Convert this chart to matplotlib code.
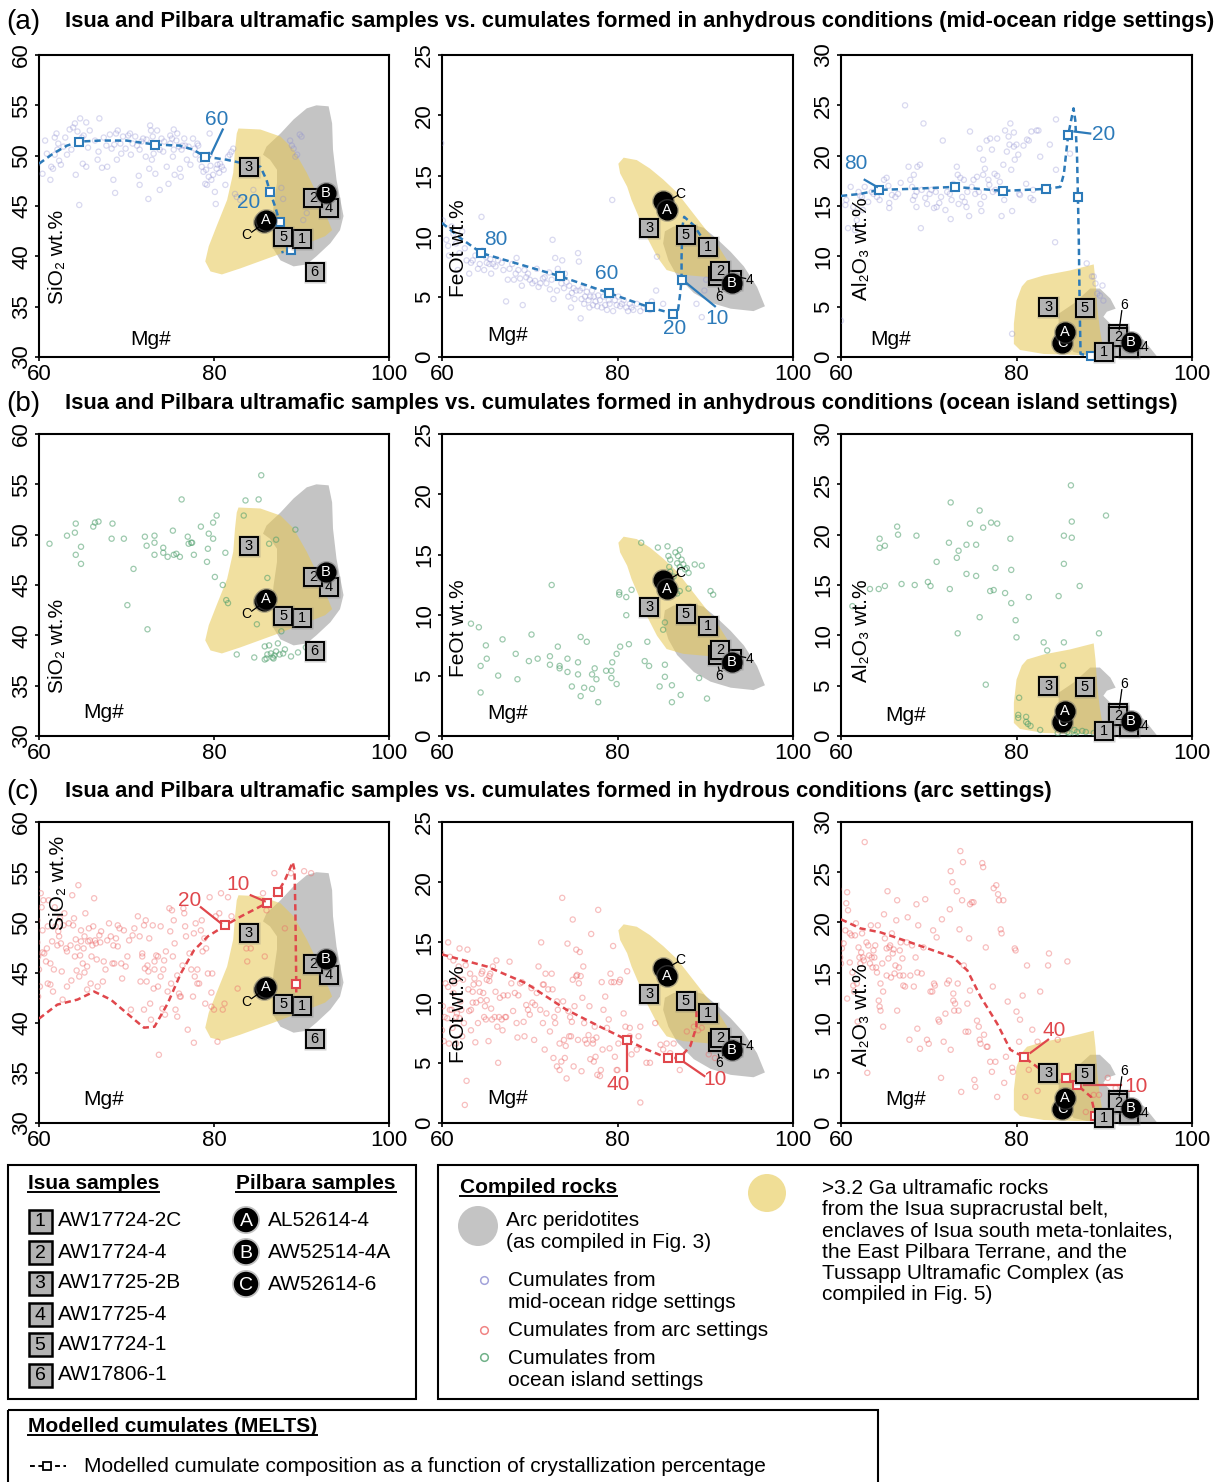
import matplotlib
matplotlib.use('Agg')
import matplotlib.pyplot as plt
from matplotlib.patches import Polygon, Rectangle, Ellipse, Circle

plt.rcParams['font.family'] = ['Liberation Sans', 'DejaVu Sans']

# ------------------------------------------------------------------ data
mg_ticks = [60, 80, 100]
sio2_ticks = [30, 35, 40, 45, 50, 55, 60]
feo_ticks = [0, 5, 10, 15, 20, 25]
al_ticks = [0, 5, 10, 15, 20, 25, 30]

titles = ["Isua and Pilbara ultramafic samples vs. cumulates formed in anhydrous conditions (mid-ocean ridge settings)",
          "Isua and Pilbara ultramafic samples vs. cumulates formed in anhydrous conditions (ocean island settings)",
          "Isua and Pilbara ultramafic samples vs. cumulates formed in hydrous conditions (arc settings)"]
panel_letters = ["(a)", "(b)", "(c)"]

# Isua samples (squares 1-6)
isua_ids = ["1", "2", "3", "4", "5", "6"]
isua_names = ["AW17724-2C", "AW17724-4", "AW17725-2B", "AW17725-4", "AW17724-1", "AW17806-1"]
isua_sio2_mg = [90.1, 91.3, 84.0, 93.1, 87.9, 91.5]
isua_sio2 = [41.7, 45.8, 48.9, 44.8, 41.9, 38.4]
isua_feo_mg = [90.3, 91.7, 83.6, 93.0, 87.8, 91.5]
isua_feo = [9.1, 7.1, 10.7, 6.4, 10.1, 6.7]
isua_al_mg = [90.0, 91.6, 83.6, 92.8, 87.8, 91.6]
isua_al = [0.5, 2.0, 5.0, 0.9, 4.9, 2.3]

# Pilbara samples (circles A-C)
pil_ids = ["A", "B", "C"]
pil_names = ["AL52614-4", "AW52514-4A", "AW52614-6"]
pil_sio2_mg = [85.9, 92.8, 85.7]
pil_sio2 = [43.6, 46.3, 43.4]
pil_feo_mg = [85.6, 93.0, 85.2]
pil_feo = [12.2, 6.1, 12.9]
pil_al_mg = [85.5, 93.0, 85.2]
pil_al = [2.45, 1.5, 1.35]

# compiled fields (Mg#, oxide)
yellow_sio2 = [(82.8, 52.7), (85.3, 52.6), (87.6, 51.9), (89.1, 50.6), (90.6, 48.3), (92.1, 45.6), (93.5, 42.6),
               (92.7, 42.0), (89.8, 41.0), (86.8, 40.0), (83.0, 38.8), (80.9, 38.2), (79.6, 38.5), (79.0, 39.5),
               (79.4, 41.0), (80.3, 43.0), (81.5, 45.6), (82.2, 48.3), (82.4, 50.6), (82.6, 52.2)]
gray_sio2 = [(91.7, 55.0), (93.1, 54.9), (93.5, 53.2), (93.6, 50.6), (94.0, 47.6), (94.8, 44.0), (94.4, 42.6),
             (93.3, 41.3), (91.7, 40.0), (90.6, 39.2), (89.1, 39.0), (87.6, 39.6), (86.6, 41.0), (86.6, 43.0),
             (86.8, 44.9), (87.2, 47.3), (87.2, 48.6), (86.4, 49.6), (85.6, 50.1), (86.0, 50.9), (87.6, 52.2),
             (89.1, 53.6), (90.6, 54.7)]
yellow_feo = [(80.7, 16.5), (82.2, 16.3), (83.7, 15.6), (85.2, 14.7), (86.8, 13.6), (88.3, 12.2), (89.8, 10.8),
              (91.3, 9.4), (92.5, 8.0), (92.7, 6.9), (90.6, 6.6), (87.5, 6.8), (85.6, 7.2), (84.5, 8.3),
              (83.3, 10.0), (82.6, 11.3), (81.6, 13.0), (81.1, 14.1), (80.3, 15.2), (80.1, 16.0)]
gray_feo = [(86.4, 10.8), (88.3, 11.0), (89.8, 10.7), (91.3, 9.8), (92.9, 8.7), (94.4, 7.5), (95.9, 5.8),
            (96.8, 4.2), (95.5, 3.8), (92.9, 4.0), (90.6, 4.5), (88.7, 5.3), (86.8, 6.7), (85.8, 8.0),
            (85.2, 9.4), (85.4, 10.4)]
yellow_al = [(81.2, 7.6), (83.1, 8.1), (86.1, 8.6), (88.8, 9.2), (89.0, 7.6), (89.2, 5.0), (89.5, 2.7),
             (89.9, 0.7), (89.9, 0.2), (86.9, 0.2), (83.1, 0.3), (80.4, 0.7), (79.7, 1.3), (79.7, 3.3),
             (80.0, 5.6), (80.6, 7.0)]
gray_al = [(84.8, 4.3), (86.5, 5.3), (88.4, 6.8), (89.5, 6.8), (90.7, 5.8), (91.3, 4.8), (90.3, 4.5),
           (89.9, 4.0), (90.7, 3.3), (91.8, 2.7), (94.5, 1.7), (96.0, 0.07), (90.7, 0.07), (88.0, 0.2),
           (86.5, 0.5), (85.4, 1.7), (84.8, 3.0)]

# cumulates from mid-ocean ridge settings (Mg#, oxide)
mor_sio2 = [(59.8, 49.2), (60.4, 48.2), (60.7, 51.5), (60.9, 50.2), (61.3, 47.6), (61.4, 48.9), (61.6, 48.7),
            (61.8, 51.8), (61.8, 50.1), (62.0, 52.2), (62.1, 50.6), (62.2, 51.2), (62.3, 49.5), (62.5, 49.1),
            (62.8, 50.9), (63.0, 51.8), (63.2, 50.1), (63.5, 52.6), (63.7, 50.6), (63.9, 52.8), (64.1, 53.2),
            (64.2, 48.1), (64.4, 52.4), (64.6, 45.1), (64.7, 53.7), (64.9, 51.8), (65.0, 49.2), (65.1, 52.0),
            (65.4, 48.9), (65.4, 53.3), (65.6, 50.8), (65.8, 52.5), (66.4, 51.5), (66.7, 49.6), (66.8, 50.4),
            (66.9, 53.7), (67.2, 48.8), (67.4, 51.8), (67.7, 51.0), (67.8, 48.9), (68.1, 52.1), (68.3, 50.7),
            (68.5, 47.6), (68.6, 51.1), (68.7, 46.3), (68.8, 52.2), (68.9, 49.6), (69.0, 52.5), (69.3, 51.2),
            (69.4, 50.2), (69.6, 51.9), (69.9, 50.7), (70.2, 52.0), (70.4, 52.2), (70.5, 50.1), (70.7, 51.2),
            (71.0, 51.9), (71.2, 51.0), (71.4, 48.0), (71.5, 50.6), (71.5, 47.1), (71.7, 51.4), (71.9, 51.7),
            (72.2, 49.9), (72.3, 51.6), (72.5, 45.7), (72.6, 48.7), (72.7, 53.0), (72.8, 52.5), (72.9, 49.6),
            (73.0, 51.9), (73.1, 50.2), (73.3, 48.2), (73.4, 50.9), (73.5, 52.5), (73.8, 50.6), (73.8, 46.6),
            (74.0, 51.7), (74.2, 50.4), (74.3, 51.4), (74.6, 48.9), (74.8, 47.2), (75.0, 52.0), (75.0, 51.2),
            (75.2, 51.7), (75.3, 49.9), (75.4, 52.6), (75.4, 50.6), (75.5, 48.1), (75.7, 51.5), (75.8, 52.2),
            (76.0, 50.9), (76.1, 48.7), (76.2, 47.9), (76.3, 50.6), (76.4, 51.0), (76.6, 51.7), (76.7, 51.0),
            (76.9, 49.6), (77.1, 50.9), (77.3, 49.1), (77.6, 51.7), (77.8, 50.7), (77.9, 50.1), (78.1, 51.2),
            (78.2, 51.0), (78.4, 49.6), (78.6, 48.9), (78.8, 48.4), (79.0, 47.2), (79.1, 48.6), (79.2, 47.1),
            (79.4, 47.9), (79.5, 50.1), (79.5, 52.2), (79.6, 49.0), (79.7, 47.6), (79.9, 48.1), (80.1, 46.4),
            (80.2, 45.2), (80.3, 48.7), (80.4, 49.1), (80.6, 48.3), (80.7, 49.2), (80.9, 48.9), (81.1, 48.6),
            (81.3, 47.1), (81.6, 49.9), (81.8, 50.1), (82.0, 50.4), (82.2, 50.7), (82.4, 46.2), (82.6, 45.9),
            (83.0, 45.6), (84.5, 46.6), (87.7, 46.8), (87.9, 45.7), (88.7, 51.5), (88.9, 51.0), (89.1, 50.7),
            (89.3, 49.9), (89.5, 50.1), (89.8, 52.1), (90.0, 51.9), (90.2, 43.6), (90.6, 44.3)]
mor_feo = [(59.9, 17.7), (60.1, 11.3), (60.5, 9.7), (60.7, 9.2), (60.8, 8.4), (61.1, 10.8), (61.3, 10.2),
           (61.6, 9.4), (61.8, 7.2), (62.0, 8.6), (62.3, 10.4), (62.6, 9.0), (62.8, 8.0), (63.1, 6.9),
           (63.3, 7.8), (63.5, 8.0), (63.8, 8.4), (64.1, 7.3), (64.3, 7.7), (64.5, 11.6), (64.6, 8.8),
           (64.8, 7.2), (65.0, 8.3), (65.1, 7.8), (65.4, 7.7), (65.5, 8.1), (65.6, 6.9), (65.8, 7.7),
           (66.1, 7.5), (66.4, 8.0), (66.8, 7.8), (67.0, 7.2), (67.3, 4.6), (67.5, 6.4), (67.7, 7.3),
           (68.0, 7.7), (68.2, 6.4), (68.4, 6.9), (68.5, 8.2), (68.7, 7.2), (68.9, 6.5), (69.1, 5.9),
           (69.2, 4.3), (69.4, 7.2), (69.6, 6.6), (69.8, 6.9), (70.0, 6.4), (70.3, 6.1), (70.6, 6.3),
           (70.8, 7.3), (71.0, 5.8), (71.2, 6.1), (71.5, 6.5), (71.7, 6.6), (71.9, 6.1), (72.2, 7.0),
           (72.3, 5.6), (72.5, 6.4), (72.6, 9.7), (72.7, 4.8), (72.9, 8.2), (73.1, 5.5), (73.2, 7.3),
           (73.4, 6.8), (73.6, 6.1), (73.7, 8.0), (73.9, 5.7), (74.0, 6.9), (74.2, 6.2), (74.4, 5.0),
           (74.5, 5.9), (74.7, 4.1), (74.8, 5.3), (75.0, 5.7), (75.1, 4.8), (75.3, 5.5), (75.5, 8.6),
           (75.6, 7.9), (75.7, 5.5), (75.8, 3.2), (75.9, 4.8), (76.0, 5.7), (76.2, 4.4), (76.3, 5.0),
           (76.5, 5.4), (76.7, 4.7), (76.8, 4.1), (76.9, 5.0), (77.1, 5.5), (77.2, 4.3), (77.3, 5.0),
           (77.5, 4.6), (77.7, 4.2), (77.8, 5.1), (78.0, 4.7), (78.2, 4.1), (78.4, 5.0), (78.6, 4.3),
           (78.8, 3.9), (79.0, 4.7), (79.1, 4.4), (79.3, 5.3), (79.4, 13.0), (79.5, 3.8), (79.7, 4.7),
           (79.9, 4.3), (80.1, 5.0), (80.3, 4.2), (80.5, 4.4), (80.7, 4.7), (81.0, 4.1), (81.2, 3.8),
           (81.4, 4.4), (81.6, 4.1), (81.8, 3.9), (82.2, 4.4), (82.6, 3.8), (83.0, 4.1), (83.4, 4.1),
           (83.7, 3.9), (83.9, 4.6), (84.4, 5.5), (84.5, 8.3), (85.2, 4.4), (89.0, 4.4), (89.6, 3.3),
           (89.9, 5.5), (90.1, 6.4)]
mor_al = [(60.0, 3.6), (60.5, 15.1), (60.6, 15.6), (60.8, 12.8), (61.1, 16.9), (61.4, 14.9), (61.6, 12.6),
          (61.8, 13.6), (62.0, 16.4), (62.2, 16.0), (62.4, 15.9), (62.5, 14.6), (62.7, 16.9), (63.1, 15.4),
          (63.5, 16.4), (63.7, 16.2), (64.1, 15.9), (64.4, 15.6), (64.9, 17.6), (65.2, 17.8), (65.4, 17.0),
          (65.5, 15.3), (65.5, 14.8), (65.8, 16.1), (66.2, 15.9), (66.5, 16.2), (66.8, 17.3), (67.3, 25.0),
          (67.7, 18.9), (67.9, 17.6), (68.1, 16.9), (68.2, 15.6), (68.3, 18.1), (68.4, 16.0), (68.6, 16.4),
          (68.6, 14.9), (68.7, 18.9), (69.0, 19.1), (69.1, 12.8), (69.2, 16.6), (69.4, 23.2), (69.6, 15.8),
          (69.8, 15.2), (70.1, 16.2), (70.3, 16.6), (70.6, 14.8), (70.8, 16.4), (70.9, 14.9), (71.2, 15.3),
          (71.4, 15.9), (71.6, 21.5), (71.9, 14.6), (72.1, 16.4), (72.4, 16.2), (72.5, 13.7), (72.6, 15.6),
          (72.8, 17.2), (73.0, 16.9), (73.2, 18.9), (73.3, 18.1), (73.4, 15.2), (73.6, 17.8), (73.8, 15.9),
          (74.0, 17.6), (74.1, 15.4), (74.3, 14.9), (74.4, 16.4), (74.6, 14.0), (74.7, 22.4), (74.9, 16.9),
          (75.1, 17.6), (75.3, 16.2), (75.5, 17.9), (75.7, 16.4), (75.8, 20.7), (75.9, 15.2), (76.0, 14.5),
          (76.2, 19.6), (76.2, 18.1), (76.3, 15.9), (76.4, 18.7), (76.6, 21.5), (76.8, 17.6), (76.9, 17.1),
          (77.0, 21.7), (77.2, 20.6), (77.3, 16.4), (77.5, 18.2), (77.6, 16.6), (77.8, 21.7), (77.8, 18.0),
          (78.1, 17.4), (78.3, 14.0), (78.5, 19.1), (78.6, 15.6), (78.7, 22.5), (78.9, 20.4), (79.1, 21.9),
          (79.2, 21.1), (79.3, 23.2), (79.4, 18.6), (79.5, 14.5), (79.7, 22.3), (79.7, 20.9), (79.8, 19.6),
          (80.0, 21.1), (80.2, 20.1), (80.3, 16.2), (80.4, 16.1), (80.8, 21.0), (81.1, 17.2), (81.2, 21.6),
          (81.4, 21.5), (81.6, 15.8), (81.7, 22.4), (81.9, 15.6), (81.9, 16.6), (82.3, 22.5), (82.5, 22.5),
          (82.7, 19.9), (83.8, 21.1), (84.4, 11.4), (84.5, 23.6), (84.5, 18.6), (86.1, 20.2), (88.0, 9.3),
          (88.6, 8.0), (88.8, 8.0), (89.0, 7.3), (89.2, 6.3), (89.5, 6.1), (89.8, 7.1), (89.9, 5.6),
          (79.5, 2.3)]

# cumulates from ocean island settings
oib_sio2 = [(61.2, 49.1), (63.2, 49.9), (64.1, 50.2), (64.2, 51.1), (64.8, 48.8), (64.2, 48.0), (64.8, 47.1),
            (66.2, 50.8), (66.4, 51.2), (66.8, 51.3), (68.4, 51.1), (68.3, 49.6), (69.7, 49.6), (70.1, 43.0),
            (70.8, 46.6), (72.1, 49.8), (72.3, 48.9), (72.4, 40.6), (73.2, 49.9), (73.2, 49.2), (73.2, 48.0),
            (74.2, 48.7), (74.2, 48.2), (74.7, 47.8), (75.3, 50.4), (75.4, 48.0), (75.7, 48.1), (76.1, 47.8),
            (76.3, 53.5), (77.0, 49.8), (77.1, 49.1), (77.4, 49.2), (77.5, 49.2), (77.7, 48.0), (78.5, 50.8),
            (79.2, 47.3), (79.3, 48.6), (79.4, 50.1), (79.9, 49.6), (79.9, 51.2), (80.3, 51.9), (80.1, 45.8),
            (81.0, 45.0), (81.3, 48.2), (81.4, 43.5), (81.6, 43.2), (82.6, 38.1), (83.4, 51.9), (83.6, 53.4),
            (84.9, 41.1), (85.1, 53.5), (85.4, 55.9), (86.1, 45.7), (86.3, 49.1), (87.1, 49.5), (87.7, 40.4),
            (89.3, 50.5), (84.6, 37.8), (85.8, 38.9), (86.0, 37.7), (86.1, 38.1), (86.3, 39.0), (86.5, 38.2),
            (86.7, 37.8), (86.9, 38.0), (87.1, 38.4), (87.3, 39.2), (87.5, 38.1), (87.9, 38.2), (88.1, 38.6),
            (88.8, 37.9), (89.6, 38.3), (85.8, 37.6), (86.8, 37.7), (90.5, 38.8)]
oib_feo = [(63.3, 9.3), (64.2, 9.0), (64.4, 5.8), (64.4, 3.6), (65.0, 7.5), (65.1, 6.4), (66.4, 5.0),
           (66.9, 8.0), (68.4, 6.8), (68.6, 4.7), (69.9, 6.2), (70.2, 8.4), (70.9, 6.4), (72.3, 6.6),
           (72.3, 5.9), (72.5, 12.5), (73.2, 7.4), (73.4, 5.8), (73.4, 5.6), (74.3, 6.4), (74.3, 5.3),
           (74.8, 4.1), (75.5, 6.1), (75.5, 5.1), (75.8, 3.3), (75.8, 8.2), (76.2, 4.0), (76.5, 7.8),
           (77.1, 5.1), (77.1, 3.9), (77.4, 5.6), (77.6, 4.7), (77.8, 2.8), (78.7, 5.4), (79.3, 5.4),
           (79.4, 6.1), (79.3, 4.8), (79.9, 4.3), (79.9, 6.8), (80.2, 11.9), (80.3, 7.4), (80.2, 11.7),
           (81.0, 11.5), (81.0, 10.0), (81.3, 7.6), (81.6, 12.1), (82.7, 16.0), (83.1, 6.2), (83.4, 7.8),
           (83.6, 5.8), (84.6, 15.6), (84.8, 4.1), (85.2, 8.8), (85.4, 9.4), (85.4, 5.9), (85.4, 4.9),
           (85.7, 15.7), (85.8, 14.9), (85.9, 14.0), (86.0, 14.6), (86.2, 2.8), (86.2, 4.2), (86.6, 15.2),
           (86.8, 14.3), (86.9, 14.9), (87.1, 14.0), (87.1, 15.4), (87.2, 3.4), (87.3, 14.6), (87.5, 14.2),
           (87.7, 13.8), (87.9, 13.9), (88.1, 13.5), (86.8, 11.8), (87.1, 12.0), (88.1, 12.2), (88.8, 14.2),
           (89.3, 4.8), (89.6, 14.1), (90.2, 3.1), (90.6, 12.0), (90.9, 11.7), (86.0, 13.6), (86.4, 13.2)]
oib_al = [(61.3, 12.9), (63.3, 14.6), (64.3, 14.6), (64.4, 18.7), (64.4, 19.6), (65.0, 18.9), (65.0, 14.9),
          (66.4, 20.8), (66.5, 20.0), (66.9, 15.1), (68.4, 15.0), (68.6, 19.9), (69.9, 15.3), (70.2, 14.9),
          (70.9, 17.3), (72.3, 19.2), (72.4, 14.6), (72.5, 23.2), (73.2, 17.7), (73.3, 10.2), (73.4, 18.4),
          (74.3, 19.0), (74.3, 16.1), (74.7, 21.1), (75.4, 19.0), (75.4, 15.9), (75.8, 22.4), (75.8, 11.8),
          (76.2, 20.7), (76.5, 5.1), (77.0, 14.4), (77.1, 21.2), (77.4, 14.5), (77.6, 16.7), (77.8, 21.1),
          (78.7, 14.2), (79.3, 19.6), (79.4, 16.5), (79.4, 13.2), (79.9, 11.5), (80.0, 9.8), (80.3, 3.8),
          (80.2, 2.1), (80.2, 1.8), (81.1, 1.9), (81.3, 1.2), (81.6, 1.0), (81.1, 1.4), (81.4, 13.8),
          (82.7, 0.6), (83.1, 9.3), (83.5, 8.5), (84.8, 13.9), (84.7, 0.3), (85.3, 7.0), (85.4, 19.9),
          (85.4, 17.1), (85.4, 9.3), (85.8, 0.4), (86.0, 0.3), (86.2, 24.9), (86.3, 21.3), (86.3, 19.7),
          (86.6, 0.6), (86.7, 0.1), (86.9, 0.4), (87.2, 14.9), (87.5, 0.5), (87.9, 0.4), (88.8, 0.3),
          (89.4, 10.2), (90.2, 21.9)]

# cumulates from arc settings
arc_sio2 = [(59.7, 53.5), (59.7, 51.4), (59.8, 50.2), (59.8, 48.0), (59.9, 46.6), (59.9, 42.6), (60.0, 45.3),
            (60.1, 43.6), (60.2, 52.9), (60.3, 51.5), (60.4, 49.2), (60.4, 47.0), (60.5, 52.2), (60.6, 46.9),
            (60.8, 46.1), (60.9, 47.4), (61.0, 49.6), (61.0, 43.9), (61.1, 52.2), (61.3, 43.8), (61.3, 45.9),
            (61.5, 48.1), (61.6, 43.1), (61.7, 45.3), (61.8, 51.5), (61.9, 49.6), (62.1, 47.7), (62.2, 49.1),
            (62.3, 48.6), (62.4, 50.4), (62.5, 47.9), (62.6, 45.1), (62.7, 42.3), (62.8, 49.7), (62.9, 50.9),
            (63.1, 47.4), (63.2, 43.6), (63.2, 47.1), (63.4, 49.9), (63.6, 47.7), (63.7, 44.2), (63.8, 52.7),
            (63.9, 49.7), (64.0, 50.4), (64.1, 46.6), (64.2, 48.3), (64.3, 45.2), (64.4, 47.5), (64.5, 53.7),
            (64.6, 44.6), (64.7, 46.7), (64.8, 49.2), (64.8, 48.1), (65.0, 45.9), (65.1, 47.4), (65.2, 48.6),
            (65.2, 45.0), (65.3, 50.9), (65.5, 43.3), (65.5, 45.6), (65.6, 48.1), (65.7, 49.4), (65.8, 48.2),
            (65.9, 43.9), (66.0, 46.6), (66.1, 47.7), (66.2, 49.6), (66.3, 52.4), (66.4, 48.2), (66.5, 47.9),
            (66.6, 46.3), (66.7, 43.6), (66.9, 48.7), (67.0, 48.0), (67.1, 49.1), (67.3, 44.1), (67.4, 46.1),
            (67.6, 45.3), (67.8, 48.2), (68.0, 49.9), (68.2, 48.6), (68.4, 45.9), (68.5, 47.7), (68.6, 45.9),
            (68.8, 48.4), (69.0, 49.7), (69.0, 47.6), (69.2, 49.4), (69.4, 45.9), (69.5, 44.4), (69.7, 49.2),
            (69.9, 45.6), (70.1, 46.6), (70.3, 48.2), (70.5, 41.3), (70.7, 48.7), (70.9, 49.4), (71.3, 50.6),
            (71.5, 48.6), (71.6, 44.1), (71.8, 46.6), (71.8, 46.9), (72.0, 49.7), (72.0, 41.3), (72.1, 45.4),
            (72.2, 50.2), (72.3, 44.1), (72.4, 45.7), (72.5, 45.1), (72.6, 48.4), (72.7, 41.9), (72.8, 40.3),
            (73.0, 49.7), (73.1, 43.4), (73.2, 46.1), (73.2, 45.3), (73.4, 46.7), (73.6, 43.6), (73.6, 46.6),
            (73.7, 36.8), (73.9, 44.6), (73.9, 49.6), (74.1, 41.4), (74.2, 45.3), (74.3, 46.2), (74.4, 40.8),
            (74.5, 47.1), (74.7, 43.1), (74.9, 51.4), (75.0, 49.1), (75.1, 43.9), (75.2, 51.2), (75.3, 46.6),
            (75.4, 50.2), (75.5, 47.9), (75.6, 41.3), (75.8, 40.6), (75.8, 44.7), (76.0, 42.9), (76.1, 42.6),
            (76.2, 42.6), (76.4, 45.7), (76.5, 51.4), (76.6, 50.9), (76.7, 49.6), (76.8, 48.6), (77.0, 39.3),
            (77.2, 46.9), (77.4, 45.3), (77.6, 42.6), (77.7, 38.0), (77.7, 48.9), (77.8, 44.6), (77.9, 49.9),
            (78.1, 45.3), (78.1, 43.9), (78.3, 43.9), (78.5, 49.2), (78.6, 50.2), (78.7, 47.1), (78.9, 48.4),
            (79.0, 41.9), (79.1, 47.4), (79.3, 44.9), (79.5, 52.5), (79.7, 43.0), (79.7, 41.6), (79.8, 44.9),
            (80.0, 41.3), (80.2, 50.6), (80.4, 38.1), (80.6, 50.9), (80.8, 52.9), (81.0, 41.3), (81.2, 41.9),
            (81.6, 52.5), (82.0, 50.6), (82.7, 43.4), (83.7, 47.4), (83.8, 46.1), (84.2, 47.4), (84.8, 49.1),
            (85.0, 43.4), (85.6, 52.9), (85.8, 46.6), (86.0, 51.2), (86.1, 43.6), (86.9, 54.9), (87.3, 53.2),
            (88.1, 49.4), (88.8, 54.9), (90.3, 55.1), (91.1, 54.9)]
arc_feo = [(59.9, 14.1), (60.0, 7.7), (60.1, 9.7), (60.2, 6.8), (60.3, 8.8), (60.4, 11.6), (60.6, 8.7),
           (60.7, 15.0), (60.7, 11.3), (60.8, 6.6), (60.9, 9.4), (60.9, 13.8), (61.1, 9.4), (61.2, 7.9),
           (61.3, 13.5), (61.3, 10.8), (61.4, 11.6), (61.6, 6.6), (61.6, 8.8), (61.7, 9.1), (61.8, 12.0),
           (61.9, 13.0), (62.0, 14.5), (62.0, 8.7), (62.1, 10.1), (62.2, 9.4), (62.3, 7.2), (62.4, 11.9),
           (62.5, 8.3), (62.6, 1.5), (62.7, 13.1), (62.8, 3.5), (62.9, 14.4), (63.0, 11.1), (63.1, 9.3),
           (63.2, 12.4), (63.3, 9.4), (63.3, 7.7), (63.5, 10.9), (63.5, 10.0), (63.6, 11.5), (63.7, 12.0),
           (63.8, 6.7), (63.9, 10.0), (64.1, 8.3), (64.2, 11.6), (64.3, 10.9), (64.4, 10.2), (64.5, 12.4),
           (64.6, 12.6), (64.7, 10.8), (64.8, 8.8), (64.9, 9.7), (65.0, 8.6), (65.1, 10.2), (65.1, 11.9),
           (65.3, 6.8), (65.4, 11.8), (65.4, 12.2), (65.5, 12.4), (65.6, 9.5), (65.7, 8.6), (65.8, 13.0),
           (66.0, 8.8), (66.1, 10.9), (66.2, 13.5), (66.3, 8.0), (66.4, 5.0), (66.5, 8.8), (66.6, 10.4),
           (66.8, 8.6), (66.9, 7.7), (67.0, 10.6), (67.2, 8.8), (67.3, 8.8), (67.5, 10.6), (67.7, 13.4),
           (67.9, 11.6), (68.1, 9.3), (68.3, 10.8), (68.5, 8.3), (68.6, 7.1), (68.7, 10.6), (68.9, 11.6),
           (69.1, 11.7), (69.3, 8.4), (69.4, 7.2), (69.6, 9.8), (69.8, 9.4), (70.0, 9.0), (70.2, 11.2),
           (70.3, 10.0), (70.5, 6.9), (70.6, 9.8), (70.8, 10.8), (71.0, 13.0), (71.2, 9.4), (71.3, 15.0),
           (71.5, 11.5), (71.5, 8.3), (71.6, 11.5), (71.7, 6.1), (71.8, 12.4), (71.9, 9.1), (72.1, 11.1),
           (72.3, 7.6), (72.5, 12.4), (72.6, 11.1), (72.7, 5.4), (72.8, 8.8), (72.9, 8.3), (73.1, 4.7),
           (73.1, 10.1), (73.2, 9.4), (73.4, 6.6), (73.4, 4.4), (73.6, 5.1), (73.7, 18.7), (73.8, 10.1),
           (73.9, 6.9), (74.0, 5.4), (74.1, 6.4), (74.2, 3.7), (74.3, 14.9), (74.4, 9.3), (74.5, 7.2),
           (74.6, 8.8), (74.7, 7.2), (74.8, 8.4), (74.9, 11.9), (74.9, 16.9), (75.0, 4.7), (75.1, 9.7),
           (75.3, 14.4), (75.3, 12.2), (75.4, 12.3), (75.5, 6.9), (75.6, 11.6), (75.7, 14.2), (75.8, 12.2),
           (75.9, 4.3), (76.0, 10.4), (76.1, 13.0), (76.2, 8.3), (76.3, 6.9), (76.5, 6.6), (76.7, 7.3),
           (76.8, 9.7), (76.9, 5.3), (77.0, 15.7), (77.2, 6.6), (77.2, 6.9), (77.3, 5.1), (77.4, 8.0),
           (77.5, 5.5), (77.6, 7.1), (77.7, 4.0), (77.8, 17.7), (78.0, 3.9), (78.1, 4.4), (78.2, 11.7),
           (78.3, 6.1), (78.4, 9.4), (78.6, 10.5), (78.8, 7.9), (79.0, 8.6), (79.1, 6.2), (79.2, 12.4),
           (79.3, 11.7), (79.5, 14.7), (79.6, 11.7), (79.7, 5.5), (79.9, 4.4), (80.0, 4.4), (80.1, 6.6),
           (80.2, 11.7), (80.3, 11.9), (80.7, 9.1), (80.9, 8.0), (81.1, 12.6), (81.4, 7.9), (81.4, 7.2),
           (81.6, 5.7), (82.2, 6.1), (82.4, 7.2), (82.6, 8.0), (82.6, 1.7), (83.3, 5.0), (83.7, 5.0),
           (84.3, 8.3), (84.9, 6.5), (85.2, 6.1), (85.6, 6.6), (86.0, 5.8), (86.4, 6.6), (87.1, 4.4),
           (87.9, 7.6), (88.7, 8.0), (89.2, 7.7), (89.6, 7.9), (90.4, 5.7), (91.1, 5.4)]
arc_al = [(59.7, 23.3), (59.8, 18.0), (59.9, 16.5), (60.0, 15.9), (60.1, 17.4), (60.3, 17.9), (60.5, 19.2),
          (60.6, 21.9), (60.7, 23.0), (60.7, 12.4), (60.8, 21.2), (61.0, 16.0), (61.0, 18.9), (61.2, 18.7),
          (61.3, 15.0), (61.4, 13.7), (61.5, 13.1), (61.6, 18.7), (61.7, 19.9), (61.8, 13.9), (61.9, 10.1),
          (62.0, 17.5), (62.1, 16.5), (62.2, 15.9), (62.3, 17.0), (62.4, 18.9), (62.5, 16.5), (62.6, 16.2),
          (62.7, 28.0), (62.9, 18.0), (63.0, 5.0), (63.1, 17.7), (63.2, 16.7), (63.3, 15.9), (63.4, 19.7),
          (63.5, 16.5), (63.6, 15.5), (63.7, 17.2), (63.8, 16.5), (63.9, 17.7), (64.0, 15.5), (64.1, 15.0),
          (64.2, 19.7), (64.3, 12.2), (64.4, 11.6), (64.5, 13.9), (64.5, 11.2), (64.7, 15.9), (64.8, 13.1),
          (64.8, 9.6), (64.9, 20.8), (65.0, 18.4), (65.2, 14.7), (65.2, 17.4), (65.3, 23.1), (65.4, 16.4),
          (65.5, 17.5), (65.6, 17.7), (65.7, 14.5), (65.8, 18.9), (65.9, 16.9), (66.0, 17.3), (66.1, 14.9),
          (66.2, 15.7), (66.3, 20.2), (66.4, 22.2), (66.4, 11.2), (66.6, 15.5), (66.7, 14.7), (66.7, 17.2),
          (66.8, 18.0), (67.0, 16.4), (67.1, 14.7), (67.1, 13.7), (67.3, 13.6), (67.5, 18.0), (67.6, 20.5),
          (67.8, 8.3), (67.9, 14.7), (68.1, 17.7), (68.3, 13.6), (68.5, 16.5), (68.6, 21.8), (68.7, 15.0),
          (68.7, 9.4), (68.8, 19.7), (69.0, 7.4), (69.2, 14.9), (69.4, 17.5), (69.6, 22.3), (69.8, 8.3),
          (70.0, 7.9), (70.2, 13.1), (70.4, 13.1), (70.5, 19.2), (70.6, 13.9), (70.7, 13.7), (70.9, 18.5),
          (71.1, 10.3), (71.2, 10.1), (71.4, 4.5), (71.5, 20.3), (71.7, 8.1), (71.9, 10.9), (72.1, 13.9),
          (72.3, 14.2), (72.4, 21.3), (72.5, 25.1), (72.5, 7.3), (72.7, 24.0), (72.8, 12.9), (72.8, 12.2),
          (72.9, 11.2), (73.0, 11.9), (73.2, 23.1), (73.3, 13.9), (73.4, 11.2), (73.5, 19.3), (73.6, 27.1),
          (73.7, 3.1), (73.8, 22.2), (73.9, 26.0), (74.0, 15.7), (74.2, 9.1), (74.4, 11.9), (74.5, 9.1),
          (74.6, 18.4), (74.7, 21.8), (74.7, 13.2), (74.9, 22.0), (75.1, 22.0), (75.2, 4.3), (75.3, 3.6),
          (75.5, 10.2), (75.7, 9.6), (75.8, 8.3), (75.9, 7.9), (76.1, 25.9), (76.2, 25.5), (76.3, 8.8),
          (76.5, 17.5), (76.6, 7.6), (76.7, 7.6), (77.0, 6.1), (77.2, 5.1), (77.3, 13.6), (77.4, 23.4),
          (77.6, 6.1), (77.7, 23.7), (77.8, 2.6), (77.9, 22.8), (78.0, 22.2), (78.2, 19.3), (78.3, 18.9),
          (78.5, 22.2), (78.6, 4.0), (78.8, 6.6), (79.0, 12.1), (79.5, 5.5), (79.6, 5.1), (79.8, 17.4),
          (79.9, 17.2), (80.0, 11.1), (80.3, 8.1), (80.4, 10.3), (80.7, 12.7), (81.0, 2.6), (81.2, 15.7),
          (81.4, 5.3), (81.8, 9.3), (82.4, 8.1), (82.4, 3.2), (82.7, 13.1), (83.6, 15.7), (83.7, 16.9),
          (84.7, 8.3), (85.8, 16.1), (87.9, 1.1), (88.8, 2.8), (89.4, 2.8), (90.4, 4.5), (91.3, 3.5)]

# MELTS modelled cumulates: line vertices and positions of the square markers (by vertex index)
mor_model_sio2 = [(60.0, 49.2), (61.6, 50.2), (63.2, 51.0), (64.6, 51.4), (67.0, 51.5), (70.0, 51.5), (73.3, 51.1),
                  (76.1, 51.0), (77.6, 50.6), (79.0, 49.9), (81.4, 49.6), (83.0, 49.3), (85.3, 48.9), (86.0, 47.6),
                  (86.4, 46.4), (87.0, 44.9), (87.5, 43.4), (88.0, 41.9), (88.8, 40.6), (87.7, 40.4)]
mor_model_sio2_marks = [3, 6, 9, 14, 16, 18]
mor_model_feo = [(60.0, 11.1), (62.0, 9.9), (64.5, 8.6), (73.4, 6.7), (79.0, 5.3), (83.7, 4.1), (86.3, 3.6),
                 (86.9, 3.9), (87.1, 5.0), (87.3, 6.4), (87.3, 8.3), (87.4, 10.8), (87.6, 11.6), (88.7, 10.9),
                 (89.6, 9.9)]
mor_model_feo_marks = [2, 3, 4, 5, 6, 9]
mor_model_al = [(60.0, 16.0), (62.2, 16.2), (64.3, 16.6), (67.9, 16.7), (73.0, 16.9), (78.5, 16.5), (83.4, 16.7),
                (85.0, 16.9), (85.4, 18.2), (85.7, 20.6), (85.9, 22.1), (86.5, 24.7), (86.7, 23.5), (86.9, 19.9),
                (87.0, 15.9), (87.1, 11.6), (87.2, 5.0), (87.3, 0.3), (88.5, 0.1)]
mor_model_al_marks = [2, 4, 5, 6, 10, 14, 18]
arc_model_sio2 = [(60.0, 40.4), (62.1, 41.8), (64.4, 42.3), (66.3, 43.1), (68.2, 42.3), (70.5, 40.6), (72.0, 39.5),
                  (73.2, 39.6), (74.7, 41.9), (76.2, 44.9), (77.7, 47.2), (79.3, 48.6), (81.3, 49.7), (83.1, 50.6),
                  (86.0, 51.9), (87.3, 53.0), (88.1, 54.2), (89.0, 56.0), (89.2, 55.2), (89.3, 51.2), (89.4, 43.9),
                  (89.4, 42.8)]
arc_model_sio2_marks = [12, 14, 15, 20]
arc_model_feo = [(60.0, 14.0), (65.1, 13.0), (69.6, 11.6), (74.2, 9.4), (78.0, 8.0), (81.1, 6.9), (83.0, 6.2),
                 (85.7, 5.4), (87.1, 5.4), (88.3, 6.4), (89.0, 8.0), (89.0, 9.4)]
arc_model_feo_marks = [5, 7, 8]
arc_model_al = [(60.0, 20.3), (62.2, 19.4), (64.5, 19.0), (67.9, 18.0), (72.8, 16.5), (74.4, 15.2), (75.9, 12.6),
                (77.8, 9.9), (79.3, 7.3), (80.8, 6.6), (83.1, 5.1), (85.6, 4.5), (86.9, 3.8), (88.5, 2.6),
                (89.0, 0.7)]
arc_model_al_marks = [9, 11, 12, 14]

# crystallization-percentage labels on the model curves: (text, x, y, leader)
mor_pct_labels = [
    [("60", 80.3, 53.6, [(81.0, 52.6), (79.7, 50.2)]), ("20", 84.0, 45.3, None)],
    [("80", 66.1, 9.7, None), ("60", 78.8, 6.9, None), ("20", 86.5, 2.4, None),
     ("10", 91.3, 3.2, [(87.9, 6.1), (91.1, 4.2)])],
    [("80", 61.7, 19.2, [(62.7, 17.6), (64.1, 16.9)]), ("20", 89.9, 22.1, [(86.6, 22.4), (88.4, 22.2)])],
]
arc_pct_labels = [
    [("20", 77.2, 52.2, [(78.5, 51.5), (80.8, 49.9)]), ("10", 82.8, 53.8, [(84.2, 52.7), (85.8, 52.1)])],
    [("40", 80.1, 3.2, [(81.05, 6.6), (81.05, 4.3)]), ("10", 91.1, 3.6, [(87.7, 5.0), (89.9, 3.9)])],
    [("40", 84.3, 9.2, [(81.6, 7.0), (83.6, 8.3)]), ("10", 93.6, 3.6, [(87.7, 3.8), (91.9, 3.8)])],
]

# ------------------------------------------------------------------ layout
W, H = 1225, 1482
fig = plt.figure(figsize=(W / 100, H / 100), dpi=100)

ov = fig.add_axes([0, 0, 1, 1])
ov.set_xlim(0, W)
ov.set_ylim(H, 0)
ov.axis('off')

COLS = [(39, 389), (442, 793), (841, 1192)]
ROWS = [(55, 357), (434, 736), (822, 1123)]
TITLE_Y = [22, 404, 792]

YLIM = [(30, 60), (0, 25), (0, 30)]
YTICKS = [sio2_ticks, feo_ticks, al_ticks]
YLABELS = ["SiO\u2082 wt.%", "FeOt wt.%", "Al\u2082O\u2083 wt.%"]
YLABEL_POS = [[(62.1, 39.9), (61.9, 9.0), (62.3, 10.8)],
              [(62.1, 38.9), (61.9, 8.9), (62.3, 10.5)],
              [(62.2, 53.9), (61.9, 9.0), (62.3, 10.8)]]
MG_POS = [[(72.7, 31.7), (67.5, 1.8), (65.7, 1.7)],
          [(67.4, 32.3), (67.5, 1.9), (67.4, 2.0)],
          [(67.4, 32.3), (67.5, 2.0), (67.4, 2.3)]]

yellow_fields = [yellow_sio2, yellow_feo, yellow_al]
gray_fields = [gray_sio2, gray_feo, gray_al]
isua_xy = [(isua_sio2_mg, isua_sio2), (isua_feo_mg, isua_feo), (isua_al_mg, isua_al)]
pil_xy = [(pil_sio2_mg, pil_sio2), (pil_feo_mg, pil_feo), (pil_al_mg, pil_al)]
scatter_sets = [[mor_sio2, mor_feo, mor_al], [oib_sio2, oib_feo, oib_al], [arc_sio2, arc_feo, arc_al]]
scatter_cols = [(0.55, 0.55, 0.82), (0.30, 0.62, 0.42), (0.93, 0.40, 0.40)]
scatter_alpha = [0.33, 0.55, 0.42]
models = [[(mor_model_sio2, mor_model_sio2_marks), (mor_model_feo, mor_model_feo_marks),
           (mor_model_al, mor_model_al_marks)],
          None,
          [(arc_model_sio2, arc_model_sio2_marks), (arc_model_feo, arc_model_feo_marks),
           (arc_model_al, arc_model_al_marks)]]
model_cols = ['#2C7AB9', None, '#E0474C']
pct_labels = [mor_pct_labels, None, arc_pct_labels]

# drawing order of samples per column (indices into isua lists)
isua_order = [[5, 3, 1, 0, 4, 2], [5, 3, 1, 2, 4, 0], [3, 5, 1, 0, 2, 4]]
# letters hidden under other circles (per column)
hidden_letters = [["C"], ["C"], []]
# hidden-sample tags outside markers: (text, x, y, leader)
tags = [[("C", 83.7, 42.1, [(84.3, 42.4), (85.1, 42.9)])],
        [("C", 87.2, 13.5, [(86.2, 13.1), (86.9, 13.4)]), ("4", 95.0, 6.4, [(93.9, 6.6), (94.6, 6.5)]),
         ("6", 91.6, 5.0, [(91.5, 5.7), (91.6, 5.4)])],
        [("6", 92.25, 5.2, [(92.0, 4.6), (91.7, 2.7)]), ("4", 94.6, 1.0, [(93.9, 0.9), (94.3, 0.9)])]]

YEL = (231 / 255, 199 / 255, 82 / 255)
GRY = '#C4C4C4'
SQ_FILL = '#B3B3B3'

for r, (top, bot) in enumerate(ROWS):
    ov.text(6, TITLE_Y[r], panel_letters[r], fontsize=20, ha='left', va='center')
    ov.text(65, TITLE_Y[r], titles[r], fontsize=15.8, fontweight='bold', ha='left', va='center')
    for c, (left, right) in enumerate(COLS):
        ax = fig.add_axes([left / W, 1 - bot / H, (right - left) / W, (bot - top) / H])
        ax.set_xlim(60, 100)
        ax.set_ylim(*YLIM[c])
        ax.set_xticks(mg_ticks)
        ax.set_yticks(YTICKS[c])
        ax.tick_params(direction='out', length=3, width=1.2, labelsize=16, pad=2)
        for lab in ax.get_yticklabels():
            lab.set_rotation(90)
            lab.set_va('center')
        for s in ax.spines.values():
            s.set_linewidth(1.5)

        ax.add_patch(Polygon(gray_fields[c], closed=True, fc=GRY, ec='none', zorder=1))
        ax.add_patch(Polygon(yellow_fields[c], closed=True, fc=YEL, alpha=0.55, ec='none', zorder=2))

        pts = scatter_sets[r][c]
        ax.scatter([p[0] for p in pts], [p[1] for p in pts], s=14, facecolors='none',
                   edgecolors=scatter_cols[r], linewidths=0.9, alpha=scatter_alpha[r], zorder=3)

        if models[r] is not None:
            line, marks = models[r][c]
            col = model_cols[r]
            ax.plot([p[0] for p in line], [p[1] for p in line], ls=(0, (2.5, 1.6)), color=col, lw=1.8, zorder=4)
            ax.plot([line[i][0] for i in marks], [line[i][1] for i in marks], 's', ms=5.5, mfc='white',
                    mec=col, mew=1.5, zorder=5, ls='none', clip_on=False)
            for (t, tx, ty, lead) in pct_labels[r][c]:
                ax.text(tx, ty, t, color=col, fontsize=15, ha='center', va='center', zorder=6)
                if lead:
                    ax.plot([lead[0][0], lead[1][0]], [lead[0][1], lead[1][1]], color=col, lw=1.6, zorder=6)

        # samples
        z = 10
        xs, ys = isua_xy[c]
        for i in isua_order[c]:
            ax.plot(xs[i], ys[i], 's', ms=16.5, color='#777777', alpha=0.35, mec='none', zorder=z, clip_on=False)
            ax.plot(xs[i], ys[i], 's', ms=13.5, mfc=SQ_FILL, mec='black', mew=1.4, zorder=z + 0.1,
                    clip_on=False)
            ax.text(xs[i], ys[i], isua_ids[i], fontsize=10.5, ha='center', va='center', zorder=z + 0.2)
            z += 1
        xs, ys = pil_xy[c]
        for i in [2, 0, 1]:
            ax.plot(xs[i], ys[i], 'o', ms=16.5, color='#666666', alpha=0.45, mec='none', zorder=z, clip_on=False)
            ax.plot(xs[i], ys[i], 'o', ms=13.5, mfc='black', mec='black', zorder=z + 0.1, clip_on=False)
            if pil_ids[i] not in hidden_letters[c]:
                ax.text(xs[i], ys[i], pil_ids[i], fontsize=10.5, color='white', ha='center', va='center',
                        zorder=z + 0.2)
            z += 1
        for (t, tx, ty, lead) in tags[c]:
            ax.text(tx, ty, t, fontsize=10, ha='center', va='center', zorder=z + 1)
            ax.plot([lead[0][0], lead[1][0]], [lead[0][1], lead[1][1]], color='black', lw=0.9, zorder=z + 1)

        lx, ly = YLABEL_POS[r][c]
        ax.text(lx, ly, YLABELS[c], rotation=90, fontsize=15, ha='center', va='center', zorder=20)
        mx, my = MG_POS[r][c]
        ax.text(mx, my, "Mg#", fontsize=15, ha='center', va='center', zorder=20)

# ------------------------------------------------------------------ legend boxes
for (x0, y0, w, h) in [(8, 1165, 408, 234), (438, 1165, 760, 234), (8, 1410, 870, 95)]:
    ov.add_patch(Rectangle((x0, y0), w, h, fill=False, ec='black', lw=1.5, clip_on=False))

headers = []
headers.append(ov.text(28, 1189, "Isua samples", fontsize=15, fontweight='bold', ha='left', va='baseline'))
headers.append(ov.text(236, 1189, "Pilbara samples", fontsize=15, fontweight='bold', ha='left', va='baseline'))
headers.append(ov.text(460, 1193, "Compiled rocks", fontsize=15, fontweight='bold', ha='left', va='baseline'))
headers.append(ov.text(28, 1432, "Modelled cumulates (MELTS)", fontsize=15, fontweight='bold', ha='left',
                       va='baseline'))

sq_y = [1221, 1252, 1283, 1314, 1344, 1375]
for i, yy in enumerate(sq_y):
    ov.add_patch(Rectangle((28.5, yy - 11.5), 23, 23, fc=SQ_FILL, ec='black', lw=1.8))
    ov.text(40, yy + 1, isua_ids[i], fontsize=14, ha='center', va='center')
    ov.text(58, yy, isua_names[i], fontsize=15, ha='left', va='center')
circ_y = [1220, 1252, 1284]
for i, yy in enumerate(circ_y):
    ov.add_patch(Circle((246, yy), 14, fc='#777777', ec='none', alpha=0.45))
    ov.add_patch(Circle((246, yy), 11.5, fc='black', ec='black'))
    ov.text(246, yy + 1, pil_ids[i], fontsize=14, color='white', ha='center', va='center')
    ov.text(268, yy, pil_names[i], fontsize=15, ha='left', va='center')

ov.add_patch(Ellipse((478, 1226), 40, 40, fc=GRY, ec='none'))
ov.text(506, 1220, "Arc peridotites", fontsize=15, ha='left', va='center')
ov.text(506, 1242, "(as compiled in Fig. 3)", fontsize=15, ha='left', va='center')
leg_items = [(1280, scatter_cols[0], ["Cumulates from", "mid-ocean ridge settings"]),
             (1330, scatter_cols[2], ["Cumulates from arc settings"]),
             (1357, scatter_cols[1], ["Cumulates from", "ocean island settings"])]
for yy, colr, lines in leg_items:
    ov.plot(484, yy, 'o', ms=5.5, mfc='none', mec=colr, mew=1.1, alpha=0.8)
    for k, ln in enumerate(lines):
        ov.text(508, yy + 1 + 22 * k, ln, fontsize=15, ha='left', va='center')

ov.add_patch(Ellipse((767, 1193), 38, 38, fc=(0.94, 0.87, 0.59), ec='none'))
yel_lines = [">3.2 Ga ultramafic rocks", "from the Isua supracrustal belt,",
             "enclaves of Isua south meta-tonlaites,", "the East Pilbara Terrane, and the",
             "Tussapp Ultramafic Complex (as", "compiled in Fig. 5)"]
for k, ln in enumerate(yel_lines):
    ov.text(822, 1188 + 21.4 * k, ln, fontsize=15, ha='left', va='center')

ov.plot([30, 66], [1466, 1466], color='black', lw=1.4, ls=(0, (2.5, 1.8)))
ov.plot(47, 1466, 's', ms=6, mfc='white', mec='black', mew=1.3)
ov.text(84, 1466, "Modelled cumulate composition as a function of crystallization percentage", fontsize=15,
        ha='left', va='center')

fig.canvas.draw()
rend = fig.canvas.get_renderer()
for t in headers:
    bb = t.get_window_extent(rend)
    yb = t.get_position()[1] + 3
    ov.plot([bb.x0, bb.x1], [yb, yb], color='black', lw=1.4)

fig.savefig('out.png', dpi=100)
